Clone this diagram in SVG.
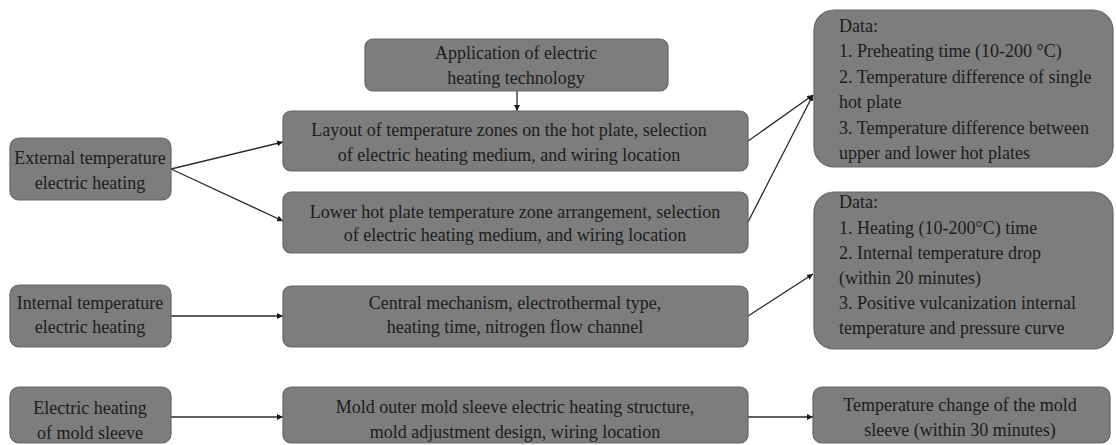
<svg xmlns="http://www.w3.org/2000/svg" width="1116" height="445" viewBox="0 0 1116 445">
<style>
.box{fill:#7d7d7d;stroke:#666;stroke-width:1.2}
.t{font-family:"Liberation Serif","Times New Roman",serif;font-size:18px;fill:#1c1c1c}
.c{text-anchor:middle}
.ln{stroke:#2a2a2a;stroke-width:1.3;fill:none;marker-end:url(#ah)}
</style>
<defs>
<marker id="ah" viewBox="0 0 10 10" refX="10" refY="5" markerWidth="6" markerHeight="6" markerUnits="userSpaceOnUse" orient="auto">
<path d="M0,0 L10,5 L0,10 z" fill="#1a1a1a"/>
</marker>
</defs>
<rect width="1116" height="445" fill="#fff"/>
<g id="connectors">
<line class="ln" x1="517" y1="91" x2="517" y2="111"/>
<line class="ln" x1="171" y1="169" x2="283" y2="142"/>
<line class="ln" x1="171" y1="169" x2="283" y2="221"/>
<line class="ln" x1="171" y1="316" x2="283" y2="316"/>
<line class="ln" x1="171" y1="417" x2="283" y2="417"/>
<line class="ln" x1="748" y1="141" x2="813" y2="95"/>
<line class="ln" x1="748" y1="222" x2="813" y2="95"/>
<line class="ln" x1="748" y1="316" x2="813" y2="274"/>
<line class="ln" x1="748" y1="417" x2="813" y2="417"/>
</g>
<g id="n-ext">
<rect class="box" x="10" y="138" width="161" height="62" rx="9"/>
<text class="t c" x="90" y="164">External temperature</text>
<text class="t c" x="90" y="189">electric heating</text>
</g>
<g id="n-int">
<rect class="box" x="10" y="285" width="161" height="62" rx="9"/>
<text class="t c" x="90" y="309">Internal temperature</text>
<text class="t c" x="90" y="333">electric heating</text>
</g>
<g id="n-mold">
<rect class="box" x="10" y="387" width="161" height="56" rx="9"/>
<text class="t c" x="90" y="414">Electric heating</text>
<text class="t c" x="90" y="439">of mold sleeve</text>
</g>
<g id="n-app">
<rect class="box" x="365" y="39" width="303" height="52" rx="8"/>
<text class="t c" x="516" y="59">Application of electric</text>
<text class="t c" x="516" y="84">heating technology</text>
</g>
<g id="n-layout">
<rect class="box" x="283" y="111" width="465" height="60" rx="8"/>
<text class="t c" x="509" y="136">Layout of temperature zones on the hot plate, selection</text>
<text class="t c" x="509" y="161">of electric heating medium, and wiring location</text>
</g>
<g id="n-lower">
<rect class="box" x="283" y="192" width="465" height="61" rx="8"/>
<text class="t c" x="515" y="218">Lower hot plate temperature zone arrangement, selection</text>
<text class="t c" x="515" y="241">of electric heating medium, and wiring location</text>
</g>
<g id="n-central">
<rect class="box" x="283" y="286" width="465" height="61" rx="8"/>
<text class="t c" x="515" y="309">Central mechanism, electrothermal type,</text>
<text class="t c" x="515" y="333">heating time, nitrogen flow channel</text>
</g>
<g id="n-outer">
<rect class="box" x="283" y="387" width="465" height="56" rx="8"/>
<text class="t c" x="515" y="413">Mold outer mold sleeve electric heating structure,</text>
<text class="t c" x="515" y="438">mold adjustment design, wiring location</text>
</g>
<g id="n-data1">
<rect class="box" x="814" y="10" width="299" height="157" rx="20"/>
<text class="t" x="839" y="32">Data:</text>
<text class="t" x="839" y="57">1. Preheating time (10-200 °C)</text>
<text class="t" x="839" y="83">2. Temperature difference of single</text>
<text class="t" x="839" y="108">hot plate</text>
<text class="t" x="839" y="134">3. Temperature difference between</text>
<text class="t" x="839" y="159">upper and lower hot plates</text>
</g>
<g id="n-data2">
<rect class="box" x="814" y="192" width="299" height="157" rx="20"/>
<text class="t" x="839" y="208">Data:</text>
<text class="t" x="839" y="234">1. Heating (10-200°C) time</text>
<text class="t" x="839" y="259">2. Internal temperature drop</text>
<text class="t" x="839" y="284">(within 20 minutes)</text>
<text class="t" x="839" y="309">3. Positive vulcanization internal</text>
<text class="t" x="839" y="334">temperature and pressure curve</text>
</g>
<g id="n-temp">
<rect class="box" x="813" y="387" width="297" height="56" rx="9"/>
<text class="t c" x="960" y="411">Temperature change of the mold</text>
<text class="t c" x="960" y="436">sleeve (within 30 minutes)</text>
</g>
</svg>
